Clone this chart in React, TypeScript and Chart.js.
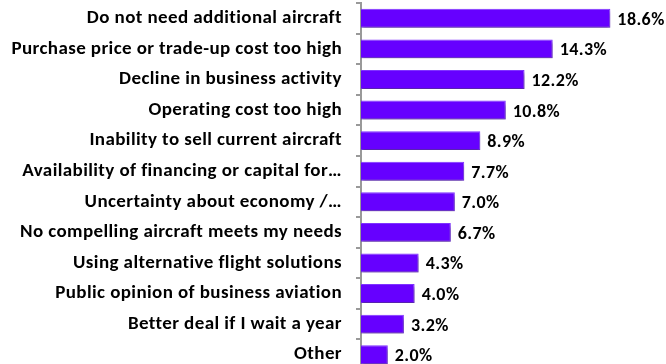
import React, { useEffect, useRef } from "react";
import { Chart, registerables } from "chart.js";

Chart.register(...registerables);

const categories = [
  "Do not need additional aircraft",
  "Purchase price or trade-up cost too high",
  "Decline in business activity",
  "Operating cost too high",
  "Inability to sell current aircraft",
  "Availability of financing or capital for…",
  "Uncertainty about economy /…",
  "No compelling aircraft meets my needs",
  "Using alternative flight solutions",
  "Public opinion of business aviation",
  "Better deal if I wait a year",
  "Other",
];

const values = [18.6, 14.3, 12.2, 10.8, 8.9, 7.7, 7.0, 6.7, 4.3, 4.0, 3.2, 2.0];

const FONT = "Carlito, Calibri, 'Liberation Sans', sans-serif";

export default function App() {
  const ref = useRef<HTMLCanvasElement | null>(null);
  useEffect(() => {
    document.body.style.margin = "0";
    const canvas = ref.current!;
    const shadowAndLabels = {
      id: "shadowAndLabels",
      beforeDraw(chart: any) {
        (chart.ctx as any).letterSpacing = "0.4px";
      },
      beforeDatasetsDraw(chart: any) {
        const ctx = chart.ctx;
        ctx.save();
        ctx.shadowColor = "rgba(0,0,0,0.35)";
        ctx.shadowOffsetX = 1;
        ctx.shadowOffsetY = 3;
        ctx.shadowBlur = 3;
      },
      afterDatasetsDraw(chart: any) {
        const ctx = chart.ctx;
        ctx.restore();
        const meta = chart.getDatasetMeta(0);
        ctx.save();
        ctx.font = `bold 18px ${FONT}`;
        ctx.fillStyle = "#000";
        ctx.textAlign = "left";
        ctx.textBaseline = "middle";
        meta.data.forEach((bar: any, i: number) => {
          ctx.fillText(values[i].toFixed(1) + "%", bar.x + 7, bar.y + 2);
        });
        ctx.restore();
      },
    };
    const chart = new Chart(canvas, {
      type: "bar",
      data: {
        labels: categories,
        datasets: [
          {
            data: values,
            backgroundColor: "#6600FF",
            borderColor: "#7F33FF",
            borderWidth: 1,
            barPercentage: 0.62,
            categoryPercentage: 1,
          },
        ],
      },
      options: {
        indexAxis: "y",
        responsive: false,
        animation: false,
        layout: { padding: { top: 3, left: 0, right: 0, bottom: 0 } },
        plugins: { legend: { display: false }, tooltip: { enabled: false } },
        scales: {
          x: { display: false, min: 0, max: 22.75 },
          y: {
            afterFit(scale: any) {
              scale.width = 361;
              scale.paddingTop = 0;
              scale.paddingBottom = 0;
            },
            border: { display: true, color: "#999999", width: 2 },
            grid: {
              display: true,
              drawOnChartArea: false,
              drawTicks: true,
              tickLength: 5,
              offset: true,
              color: "#999999",
              lineWidth: 2,
            },
            ticks: {
              color: "#000",
              padding: 14,
              font: { family: FONT, size: 19, weight: "bold" },
            },
          },
        },
      },
      plugins: [shadowAndLabels],
    });
    return () => chart.destroy();
  }, []);
  return (
    <div style={{ width: 666, height: 364, overflow: "hidden", position: "relative" }}>
      <canvas ref={ref} width={666} height={370} style={{ display: "block" }} />
    </div>
  );
}
